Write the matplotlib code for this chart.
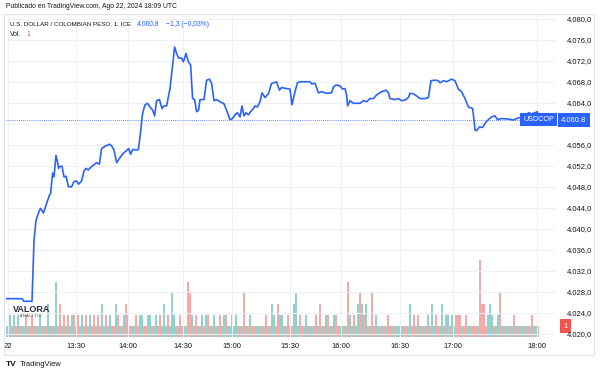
import matplotlib
matplotlib.use("Agg")
import matplotlib.pyplot as plt
from matplotlib import transforms
from matplotlib.patches import Rectangle

plt.rcParams['font.family'] = ['Liberation Sans', 'DejaVu Sans']

# price line (bar index, price)
bars = [0, 8, 9, 13, 14, 15, 16.7, 17.3, 18.7, 20.3, 21.7, 22.3, 23.3, 24, 25, 25.7, 26.3, 27, 28, 29,
        30, 31.2, 32.8, 34, 35.3, 36.3, 37.8, 39, 40, 41.2, 42.3, 43.7, 45.3, 46.7, 47.8, 48.7, 50,
        51.7, 52.8, 54, 55.3, 56.7, 58.7, 60.3, 61.3, 62.3, 63.3, 65, 66.2, 67, 68.3, 69.5, 70.7, 72,
        73.3, 74.3, 75.3, 76.7, 78, 79, 80.3, 82, 83.3, 84.3, 85.3, 86.3, 87.8, 88.7, 90, 91.2, 92.3,
        93.3, 94.3, 95.3, 96.3, 97, 99, 100.3, 101.7, 102.8, 104, 105.3, 107, 109, 110.3, 112, 113.3,
        114.5, 115.7, 117, 118, 119, 120, 121.2, 122.3, 123.7, 124.5, 125.7, 127, 128, 129.5, 131.2,
        132.8, 134, 135.3, 136.7, 137.8, 140.3, 142, 143, 144.3, 145.7, 147, 152, 152.8, 154.5, 156.2,
        157.8, 160.3, 162.8, 163.7, 165, 167, 168.3, 169.5, 170.3, 170.8, 172, 173.7, 177, 178.7,
        180.3, 182, 183.7, 185.3, 187.8, 190, 191.2, 192, 194.5, 196.2, 197.8, 199.5, 201.2, 202,
        203.7, 205.3, 207, 209.5, 211.2, 212.5, 214.5, 216.2, 217, 218.7, 220.3, 222.8, 224.5, 226.2,
        227.8, 229.5, 231.2, 233.3, 234, 234.5, 235.3, 236.7, 238.3, 239.5, 241.2, 242.8, 244.5,
        245.7, 247.8, 251.2, 253.7, 255.3, 257, 258.3, 259.5, 261.2, 262.8, 264.5, 265.7, 266.5]
price = [4026.7, 4026.7, 4026.2, 4026.2, 4037.8, 4041.6, 4043.5, 4043.9, 4043.0, 4044.8, 4046.4,
         4046.7, 4050.6, 4049.9, 4054.0, 4052.8, 4051.5, 4051.9, 4051.9, 4049.9, 4050.0, 4048.0,
         4048.0, 4049.0, 4049.1, 4048.5, 4049.1, 4051.0, 4051.5, 4051.2, 4051.7, 4052.1, 4052.6,
         4052.3, 4055.3, 4055.5, 4055.8, 4056.1, 4055.8, 4055.0, 4052.6, 4053.4, 4054.4, 4054.9,
         4055.3, 4054.2, 4055.1, 4055.0, 4055.1, 4057.5, 4062.0, 4063.6, 4063.9, 4063.2, 4062.6,
         4061.5, 4064.4, 4064.6, 4062.9, 4063.4, 4063.4, 4066.7, 4071.2, 4074.6, 4073.4, 4072.5,
         4072.5, 4071.8, 4073.4, 4071.8, 4071.2, 4064.8, 4064.6, 4062.3, 4062.6, 4064.6, 4064.6,
         4068.3, 4068.5, 4067.7, 4064.4, 4064.6, 4064.2, 4063.8, 4062.6, 4060.8, 4061.0, 4061.7,
         4062.1, 4061.3, 4063.4, 4061.5, 4062.1, 4061.7, 4062.3, 4062.9, 4063.4, 4063.2, 4064.2,
         4065.9, 4065.0, 4065.7, 4067.7, 4067.8, 4068.0, 4066.4, 4066.9, 4066.7, 4066.6, 4063.6,
         4065.8, 4067.8, 4068.0, 4068.0, 4067.6, 4067.7, 4065.9, 4066.1, 4065.8, 4065.9, 4067.0,
         4067.4, 4067.2, 4066.6, 4066.7, 4065.5, 4063.4, 4064.4, 4063.9, 4063.9, 4064.4, 4064.2,
         4064.8, 4064.8, 4065.5, 4066.1, 4066.4, 4065.9, 4064.8, 4064.6, 4064.8, 4064.4, 4064.5,
         4065.0, 4065.8, 4065.7, 4065.3, 4064.8, 4064.8, 4065.0, 4068.2, 4068.3, 4068.2, 4067.8,
         4068.2, 4068.0, 4068.5, 4068.2, 4066.6, 4066.1, 4064.8, 4063.2, 4062.9, 4060.7, 4058.8,
         4058.7, 4059.4, 4059.3, 4060.1, 4060.8, 4061.3, 4061.5, 4060.8, 4061.0, 4060.9, 4060.7,
         4061.0, 4061.2, 4060.7, 4061.0, 4062.1, 4061.9, 4062.1, 4062.3, 4060.8]

# volume per 1-minute bar and its colour (u = up / teal, d = down / red)
volume = ("1121212111" "2112111211" "1311151312" "1212212121" "2121212131"
          "2121132112" "3211121221" "1221121213" "1214211211" "1542121121"
          "2211211212" "2112121114" "1121111111" "2113213221" "1211341211"
          "2111121311" "2211221111" "1521213432" "3114121111" "1211111111"
          "1131212111" "1213121131" "2212122211" "2111111733" "1232112411"
          "1111211111" "1112111")
direction = ("uuudududuu" "dudduduudu" "duuduuddud" "uduududuud" "duuddudduu"
             "duuddududu" "duduudduud" "duuduudduu" "uduuududdu" "udduddudud"
             "ududuudduu" "duuduududd" "ududduudud" "duduudduud" "ududuuuddu"
             "uduuddudud" "udududduud" "uduuduudud" "ududduudud" "udduduudud"
             "duuddududu" "duduudduud" "uuduudddud" "duuddduddd" "duuuduudud"
             "uudududuud" "ududuud")

tick_bars = [1, 35, 61, 88.5, 113, 142, 167.5, 197, 223.5, 265.5]
tick_labels = ["22", "13:30", "14:00", "14:30", "15:00", "15:30", "16:00", "16:30", "17:00", "18:00"]
price_ticks = list(range(4020, 4081, 4))
last_price = 4060.8

W, H = 600, 374
fig = plt.figure(figsize=(6, 3.74), dpi=100)
ax = fig.add_axes([6 / W, (H - 337) / H, 550 / W, 323 / H])
ax.set_xlim(0, 275)
ax.set_ylim(4019.4, 4080.9)

vax = ax.twinx()
vax.set_ylim(0, 29.4)
vols = [int(v) for v in volume]
cols = ['#92d2cc' if c == 'u' else '#f7a9a7' for c in direction]
vax.bar(range(len(vols)), vols, width=0.55, color=cols, linewidth=0)
vax.set_yticks([])
ax.set_zorder(vax.get_zorder() + 1)
ax.patch.set_visible(False)

ax.plot(bars, price, color='#2962ff', lw=1.2, solid_joinstyle='round')
ax.axhline(last_price, color='#2962ff', lw=0.6, ls=(0, (1, 1.5)))

for a in (ax, vax):
    for s in a.spines.values():
        s.set_visible(False)

ax.set_xticks(tick_bars)
ax.set_xticklabels(tick_labels)
ax.yaxis.tick_right()
ax.set_yticks(price_ticks)
# the 4.060 label sits under the last-price box
ax.set_yticklabels(["" if p == 4060 else f"4.{p - 4000:03d},0" for p in price_ticks])
ax.tick_params(axis='both', length=0, labelsize=5.5, colors='#131722')
ax.tick_params(axis='x', pad=4)
ax.tick_params(axis='y', pad=8)
ax.grid(True, color='#eef0f6', lw=0.7)

# last price labels on the scale
bt = transforms.blended_transform_factory(ax.transAxes, ax.transData)
ax.text(1.0 + 5 / 550, last_price, "4.060,8", transform=bt, fontsize=5.5, color='white',
        va='center', ha='left', clip_on=False,
        bbox=dict(boxstyle='square,pad=0.45', fc='#2962ff', ec='none'))
ax.text(1.0 - 2 / 550, last_price, "USDCOP", transform=bt, fontsize=5.2, color='white',
        va='center', ha='right', clip_on=False,
        bbox=dict(boxstyle='square,pad=0.45', fc='#2962ff', ec='none'))
vt = transforms.blended_transform_factory(vax.transAxes, vax.transData)
vax.text(1.0 + 7 / 550, 1.0, "1", transform=vt, fontsize=5.5, color='white',
         va='center', ha='left', clip_on=False,
         bbox=dict(boxstyle='square,pad=0.45', fc='#ef5350', ec='none'))

# chart frame
fig.patches.append(Rectangle((4 / W, (H - 355) / H), 590 / W, 341 / H, transform=fig.transFigure,
                             fill=False, ec='#e0e3eb', lw=0.8))

def ftext(x, y, s, **kw):
    fig.text(x / W, 1 - y / H, s, va='center', **kw)

ftext(6, 6, "Publicado en TradingView.com, Ago 22, 2024 18:09 UTC", fontsize=4.9, color='#131722')
ftext(10, 24, "U.S. DOLLAR / COLOMBIAN PESO, 1, ICE", fontsize=4.5, color='#131722')
ftext(137, 24, "4.060,8", fontsize=4.9, color='#2962ff')
ftext(166, 24, "\u22121,3 (\u22120,03%)", fontsize=4.9, color='#2962ff')
ftext(10, 34, "Vol.", fontsize=4.9, color='#131722')
ftext(26, 34, "1", fontsize=4.9, color='#ef5350')

# watermark logo
ftext(13, 309, "VALORA", fontsize=6.5, color='#2a2e39', fontweight='bold')
ftext(20, 316, "A N A L I T I K", fontsize=2.5, color='#2a2e39')

# footer
ftext(6, 364, "TV", fontsize=6, color='#131722', fontweight='bold')
ftext(20, 364, "TradingView", fontsize=5.4, color='#131722')

fig.savefig("out.png", dpi=100, facecolor='white')
